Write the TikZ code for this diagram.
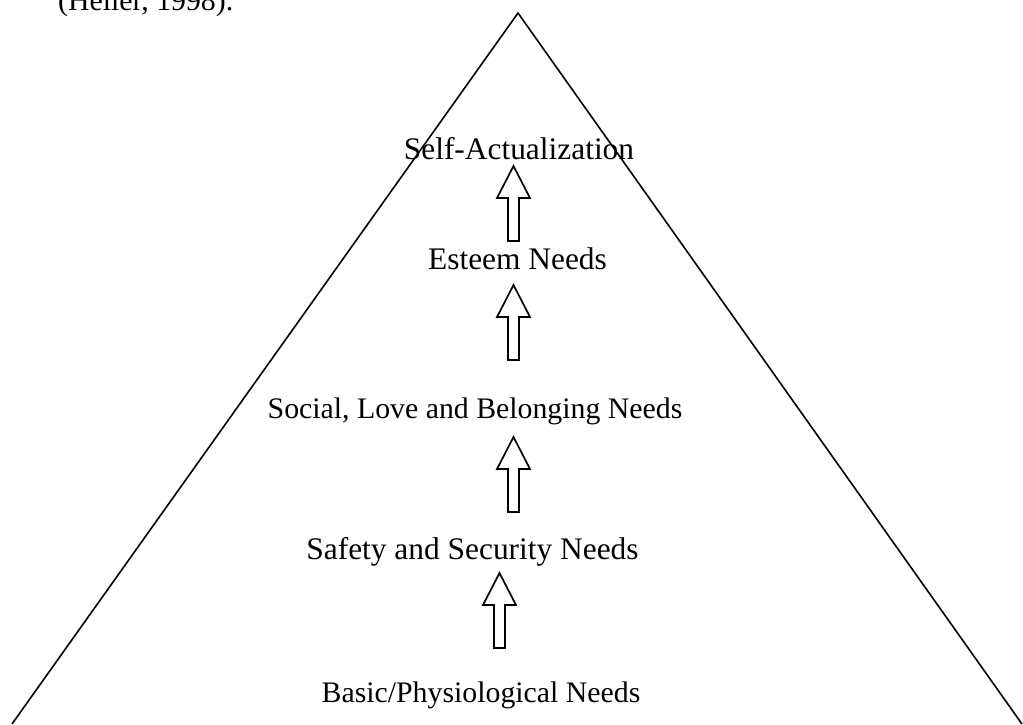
\documentclass[tikz,border=0pt]{standalone}
\usepackage{fontspec}
\setmainfont{Liberation Serif}
\begin{document}
\begin{tikzpicture}[x=1pt,y=-1pt,
  lbl/.style={anchor=base,inner sep=0pt,font=\fontsize{29.8}{36}\selectfont},
  biglbl/.style={lbl,font=\fontsize{31.4}{38}\selectfont},
  edge/.style={line width=1.6pt,line join=miter},
  blockarrow/.pic={
    \draw[line width=1.7pt,line join=miter,fill=white]
      (0,0) -- (16.5,32) -- (5.5,32) -- (5.5,75) -- (-5.5,75) -- (-5.5,32)
      -- (-16.5,32) -- cycle;
  }]
\useasboundingbox (0,0) rectangle (1023,724);
% sides of the pyramid
\coordinate (apex) at (518,13);
\coordinate (bl) at (12,724);
\coordinate (br) at (1022,724);
\draw[edge] (bl) -- (apex) -- (br);
% citation
\node[lbl,anchor=base west] (cite) at (58,10) {(Heller, 1998).};
% levels of the hierarchy
\node[biglbl] (self) at (519,159) {Self-Actualization};
\node[biglbl] (esteem) at (517.5,269) {Esteem Needs};
\node[lbl] (social) at (475,418) {Social, Love and Belonging Needs};
\node[biglbl] (safety) at (472.5,559) {Safety and Security Needs};
\node[lbl] (basic) at (481,702) {Basic/Physiological Needs};
% hollow arrows between the levels
\pic at (513.5,166) {blockarrow};
\pic at (513.5,285) {blockarrow};
\pic at (513.5,437) {blockarrow};
\pic at (499.5,573) {blockarrow};
\end{tikzpicture}
\end{document}
